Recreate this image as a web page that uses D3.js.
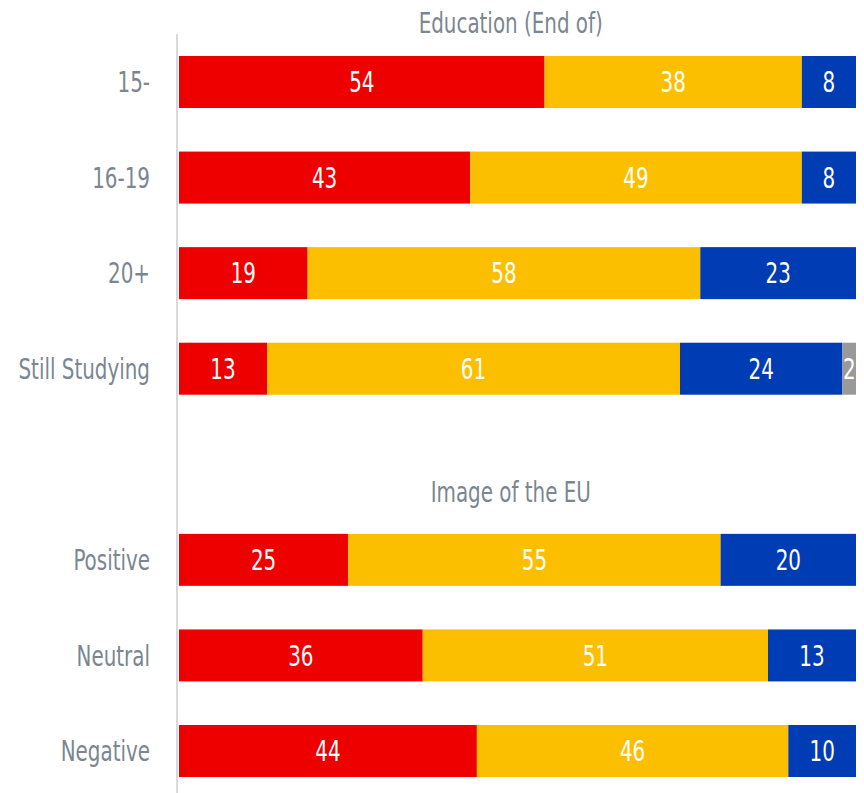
<!DOCTYPE html>
<html>
<head>
<meta charset="utf-8">
<script src="https://cdn.jsdelivr.net/npm/d3@7"></script>
<style>
  body { margin: 0; background: #fff; }
  svg text { font-family: "DejaVu Sans Condensed", "DejaVu Sans", sans-serif; }
</style>
</head>
<body>
<svg width="864" height="793"></svg>
<script>
// rows, top to bottom ('' is the gap between the two groups)
const rowKeys = ['15-', '16-19', '20+', 'Still Studying', '', 'Positive', 'Neutral', 'Negative'];
const categories = ['15-', '16-19', '20+', 'Still Studying', 'Positive', 'Neutral', 'Negative'];
const groupTitles = ['Education (End of)', 'Image of the EU'];

// series values (%)
const redValues = [54, 43, 19, 13, 25, 36, 44];
const yellowValues = [38, 49, 58, 61, 55, 51, 46];
const blueValues = [8, 8, 23, 24, 20, 13, 10];
const greyValues = [0, 0, 0, 2, 0, 0, 0];

const seriesKeys = ['red', 'yellow', 'blue', 'grey'];
const seriesColors = ['#ee0000', '#fbbf00', '#003cb4', '#999999'];

var tableRows = categories.map(function (c, i) {
  return { cat: c, red: redValues[i], yellow: yellowValues[i], blue: blueValues[i], grey: greyValues[i] };
});

var svgElement = d3.select('svg');
var labelColor = '#7b8691';
var fontSize = 28;
var squeeze = 0.79; // narrow the condensed font a bit more

var xScale = d3.scaleLinear().domain([0, 100]).range([179, 856]);
var yScale = d3.scaleBand().domain(rowKeys).range([56, 777]).paddingInner(0.456).paddingOuter(0);
var colorScale = d3.scaleOrdinal().domain(seriesKeys).range(seriesColors);

var stacked = d3.stack().keys(seriesKeys)(tableRows);

function place(x, y) {
  return 'translate(' + x + ',' + y + ') scale(' + squeeze + ',1)';
}

// vertical axis line
svgElement.append('line')
  .attr('x1', 177).attr('x2', 177)
  .attr('y1', 34).attr('y2', 793)
  .attr('stroke', '#d9d9d9')
  .attr('stroke-width', 2);

// group titles
svgElement.selectAll('.group-title')
  .data(groupTitles)
  .enter()
  .append('text')
  .attr('class', 'group-title')
  .attr('transform', function (d, i) {
    var y = i === 0 ? yScale('15-') - 23 : yScale('Positive') - 32;
    return place(xScale(49), y);
  })
  .attr('text-anchor', 'middle')
  .attr('fill', labelColor)
  .attr('font-size', fontSize)
  .text(function (d) { return d; });

// category labels
svgElement.selectAll('.cat-label')
  .data(categories)
  .enter()
  .append('text')
  .attr('class', 'cat-label')
  .attr('transform', function (d) {
    return place(150, yScale(d) + yScale.bandwidth() / 2);
  })
  .attr('dy', '0.36em')
  .attr('text-anchor', 'end')
  .attr('fill', labelColor)
  .attr('font-size', fontSize)
  .text(function (d) { return d; });

var layers = svgElement.selectAll('.layer')
  .data(stacked)
  .enter()
  .append('g')
  .attr('class', 'layer')
  .attr('fill', function (d) { return colorScale(d.key); });

layers.selectAll('rect')
  .data(function (d) { return d.filter(function (p) { return p[1] - p[0] > 0; }); })
  .enter()
  .append('rect')
  .attr('x', function (d) { return xScale(d[0]); })
  .attr('y', function (d) { return yScale(d.data.cat); })
  .attr('width', function (d) { return xScale(d[1]) - xScale(d[0]); })
  .attr('height', yScale.bandwidth());

layers.selectAll('text')
  .data(function (d) { return d.filter(function (p) { return p[1] - p[0] > 0; }); })
  .enter()
  .append('text')
  .attr('transform', function (d) {
    return place((xScale(d[0]) + xScale(d[1])) / 2, yScale(d.data.cat) + yScale.bandwidth() / 2);
  })
  .attr('dy', '0.36em')
  .attr('text-anchor', 'middle')
  .attr('fill', '#fff')
  .attr('font-size', fontSize)
  .text(function (d) { return d[1] - d[0]; });
</script>
</body>
</html>
